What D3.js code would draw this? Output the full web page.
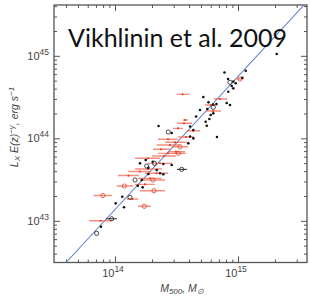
<!DOCTYPE html>
<html><head><meta charset="utf-8">
<script src="https://cdn.jsdelivr.net/npm/d3@7"></script>
<style>body{margin:0;background:#fff}svg{display:block}</style>
</head><body><svg id="c" width="310" height="298"></svg>
<script>
// ---- data (log10 M500 [Msun], log10 Lx E(z)^-g [erg/s]) ----
const blackLogM = [15.315,14.890,15.063,14.919,14.935,14.962,14.981,14.949,14.962,14.921,15.035,14.718,14.760,14.908,14.935,14.797,14.825,14.691,14.750,14.799,14.778,14.767,14.659,14.610,14.737,14.746,14.354,14.433,14.461,14.637,14.610,14.637,14.829,14.596,14.203,14.250,14.307,14.320,14.258,14.271,14.461,14.542,14.163,14.217,14.185,14.225,14.059,14.122,14.006,14.073,13.973,13.886,13.851,14.393,14.339,14.366,14.393,14.271,14.799];
const blackLogL = [45.022,44.798,44.819,44.719,44.679,44.688,44.667,44.634,44.606,44.565,44.735,44.501,44.436,44.428,44.404,44.410,44.416,44.343,44.355,44.376,44.282,44.234,44.264,44.143,44.201,44.153,44.149,44.076,44.064,44.101,44.022,44.000,44.016,43.939,43.697,43.737,43.716,43.697,43.664,43.644,43.676,43.624,43.495,43.495,43.425,43.406,43.292,43.285,43.212,43.164,43.025,42.928,42.848,43.688,43.616,43.576,43.564,43.567,44.303];
const blackOpen = [0,0,0,0,1,0,0,0,0,0,0,0,0,0,0,0,0,0,0,1,0,0,0,0,0,0,0,1,0,0,0,0,0,0,0,0,0,1,1,0,0,1,1,0,0,0,0,1,0,0,1,0,1,0,0,0,0,0,0];
const blackErrIdx = [41,50];
const blackErrLo = [14.504,13.927];
const blackErrHi = [14.585,14.016];

const redLogM = [14.550,15.016,14.854,14.797,14.561,14.569,14.512,14.634,14.431,14.488,14.447,14.528,14.374,14.496,14.431,14.515,14.268,14.366,14.268,14.337,14.110,14.285,14.309,14.244,14.076,14.317,13.902,14.141,14.238,13.882,14.780,14.577,14.398,14.203];
const redLogL = [44.533,44.719,44.476,44.331,44.182,44.222,44.121,44.092,43.988,43.952,43.919,43.898,43.867,43.838,43.818,43.818,43.758,43.697,43.628,43.576,43.549,43.515,43.495,43.442,43.422,43.365,43.307,43.264,43.176,43.001,44.404,44.016,43.785,43.598];
const redLo = [14.500,14.988,14.805,14.740,14.502,14.553,14.472,14.583,14.350,14.407,14.339,14.461,14.309,14.431,14.350,14.480,14.163,14.268,14.163,14.244,14.024,14.187,14.217,14.163,14.014,14.203,13.825,14.095,14.187,13.789,14.732,14.512,14.301,14.106];
const redHi = [14.606,15.045,14.911,14.862,14.626,14.593,14.553,14.691,14.512,14.583,14.528,14.593,14.447,14.569,14.542,14.577,14.366,14.463,14.380,14.431,14.195,14.380,14.407,14.325,14.149,14.407,13.976,14.189,14.290,13.976,14.829,14.642,14.496,14.285];
const redOpen = [0,1,0,0,0,0,0,0,0,0,0,1,0,0,0,1,0,0,0,0,0,0,1,0,1,1,1,0,1,0,0,0,0,0];

const fitLogM = [13.602,15.537];
const fitLogL = [42.495,45.616];

const xMajor = [14,15];            // exponents
const yMajor = [43,44,45];
const xDomainLog = [13.504,15.561];
const yDomainLog = [42.495,45.616];
const titleText = "Vikhlinin et al. 2009";

// ---- layout ----
const L=54,R=307,T=5,B=262.5;
const svg = d3.select("#c");
const x = d3.scaleLog().domain(xDomainLog.map(v=>10**v)).range([L,R]);
const y = d3.scaleLog().domain(yDomainLog.map(v=>10**v)).range([B,T]);

function minorTicks(scale){
  const [a,b]=scale.domain(); const out=[];
  for(let e=Math.floor(Math.log10(a)); e<=Math.ceil(Math.log10(b)); e++)
    for(let m=2;m<=9;m++){const v=m*10**e; if(v>=a&&v<=b) out.push(v);}
  return out;
}
const axColor="#555";
function drawAxis(gen, tr, vals, size){
  const g=svg.append("g").attr("transform",tr)
    .call(gen.tickValues(vals).tickSizeInner(size).tickSizeOuter(0).tickFormat(""));
  g.select(".domain").remove();
  g.selectAll("line").attr("stroke",axColor).attr("stroke-width",1);
}
const xM = xMajor.map(e=>10**e), yM = yMajor.map(e=>10**e);
drawAxis(d3.axisBottom(x),`translate(0,${B})`,xM,-6);
drawAxis(d3.axisBottom(x),`translate(0,${B})`,minorTicks(x),-3);
drawAxis(d3.axisTop(x),`translate(0,${T})`,xM,-6);
drawAxis(d3.axisTop(x),`translate(0,${T})`,minorTicks(x),-3);
drawAxis(d3.axisLeft(y),`translate(${L},0)`,yM,-6);
drawAxis(d3.axisLeft(y),`translate(${L},0)`,minorTicks(y),-3);
drawAxis(d3.axisRight(y),`translate(${R},0)`,yM,-6);
drawAxis(d3.axisRight(y),`translate(${R},0)`,minorTicks(y),-3);

svg.append("rect").attr("x",L).attr("y",T).attr("width",R-L).attr("height",B-T)
  .attr("fill","none").attr("stroke",axColor).attr("stroke-width",1.3);

// tick labels
const lblFont="'Liberation Sans', Arial, sans-serif", lblColor="#444";
xMajor.forEach(e=>{
  const t=svg.append("text").attr("x",x(10**e)-2).attr("y",277).attr("text-anchor","middle")
    .attr("font-family",lblFont).attr("font-size",11).attr("fill",lblColor);
  t.append("tspan").text("10");
  t.append("tspan").attr("dy",-5).attr("font-size",8.5).text(e);
});
yMajor.forEach(e=>{
  const t=svg.append("text").attr("x",49).attr("y",y(10**e)+4).attr("text-anchor","end")
    .attr("font-family",lblFont).attr("font-size",11).attr("fill",lblColor);
  t.append("tspan").text("10");
  t.append("tspan").attr("dy",-5).attr("font-size",8.5).text(e);
});

// axis titles
const xl=svg.append("text").attr("x",182).attr("y",292).attr("text-anchor","middle")
  .attr("font-family",lblFont).attr("font-style","italic").attr("font-size",10.5).attr("fill",lblColor);
xl.append("tspan").text("M");
xl.append("tspan").attr("dy",2).attr("font-size",8).text("500");
xl.append("tspan").attr("dy",-2).text(", M");
xl.append("tspan").attr("dy",2).attr("font-size",8).text("⊙");

const yl=svg.append("text").attr("transform","translate(18,127) rotate(-90)").attr("text-anchor","middle")
  .attr("font-family",lblFont).attr("font-style","italic").attr("font-size",10.5).attr("fill",lblColor);
yl.append("tspan").text("L");
yl.append("tspan").attr("dy",2).attr("font-size",8).text("X");
yl.append("tspan").attr("dy",-2).text(" E(z)");
yl.append("tspan").attr("dy",-4).attr("font-size",8).text("−γ");
yl.append("tspan").attr("dy",4).text(", erg s");
yl.append("tspan").attr("dy",-4).attr("font-size",8).text("−1");

// clip
svg.append("clipPath").attr("id","clip").append("rect").attr("x",L).attr("y",T).attr("width",R-L).attr("height",B-T);
const plot=svg.append("g").attr("clip-path","url(#clip)");

// fit line
plot.append("line")
  .attr("x1",x(10**fitLogM[0])).attr("y1",y(10**fitLogL[0]))
  .attr("x2",x(10**fitLogM[1])).attr("y2",y(10**fitLogL[1]))
  .attr("stroke","#5b7fc7").attr("stroke-width",1.1);

// red points
const red = redLogM.map((m,i)=>({m,l:redLogL[i],lo:redLo[i],hi:redHi[i],o:redOpen[i]}));
plot.selectAll(".rbar").data(red).join("line")
  .attr("x1",d=>x(10**d.lo)).attr("x2",d=>x(10**d.hi))
  .attr("y1",d=>y(10**d.l)).attr("y2",d=>y(10**d.l))
  .attr("stroke","#f0604a").attr("stroke-opacity",0.7).attr("stroke-width",1.4);
plot.selectAll(".rdot").data(red).join("circle")
  .attr("cx",d=>x(10**d.m)).attr("cy",d=>y(10**d.l))
  .attr("r",d=>d.o?2.1:1.1)
  .attr("fill",d=>d.o?"none":"#e8402a")
  .attr("stroke",d=>d.o?"#e8503a":"none").attr("stroke-width",0.9);

// black points
const blk = blackLogM.map((m,i)=>({m,l:blackLogL[i],o:blackOpen[i]}));
plot.selectAll(".bbar").data(blackErrIdx).join("line")
  .attr("x1",(d,i)=>x(10**blackErrLo[i])).attr("x2",(d,i)=>x(10**blackErrHi[i]))
  .attr("y1",d=>y(10**blackLogL[d])).attr("y2",d=>y(10**blackLogL[d]))
  .attr("stroke","#222").attr("stroke-width",1);
plot.selectAll(".bdot").data(blk).join("circle")
  .attr("cx",d=>x(10**d.m)).attr("cy",d=>y(10**d.l))
  .attr("r",d=>d.o?2.1:1.3)
  .attr("fill",d=>d.o?"none":"#111")
  .attr("stroke",d=>d.o?"#333":"none").attr("stroke-width",0.9);

// title
const tt=svg.append("text").attr("x",68).attr("y",46.5)
  .attr("font-family","Lato, 'Open Sans', sans-serif").attr("font-size",25).attr("fill","#111").text(titleText);
const w=tt.node().getComputedTextLength();
tt.attr("font-size",25*219/w);
</script></body></html>
